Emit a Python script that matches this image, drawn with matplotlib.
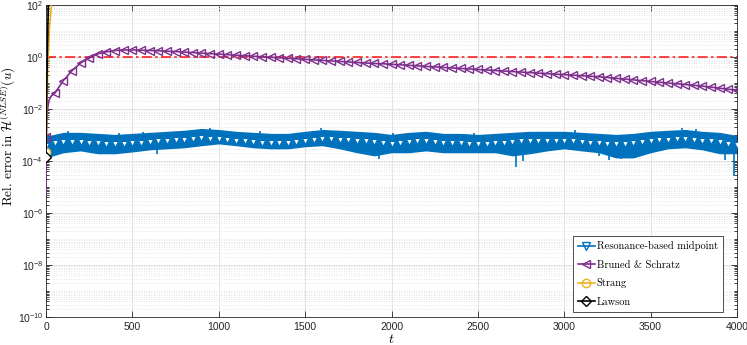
import matplotlib
matplotlib.use("Agg")
import matplotlib.pyplot as plt
import numpy as np
from matplotlib.ticker import FixedLocator, LogLocator, NullFormatter

plt.rcParams["font.family"] = ["Liberation Sans", "DejaVu Sans"]
plt.rcParams["xtick.direction"] = "in"
plt.rcParams["ytick.direction"] = "in"

# Resonance-based midpoint: noisy band, read as upper / lower envelope (log10) every 100
rbm_t = np.arange(0, 4001, 100)
rbm_upper_exp = [
    -3.08, -2.93, -2.93, -2.97, -3.01, -2.97, -2.93, -2.89, -2.85, -2.78,
    -2.82, -2.89, -2.93, -2.97, -2.97, -2.89, -2.82, -2.85, -2.89, -2.93,
    -3.01, -2.93, -2.89, -2.97, -2.97, -3.01, -2.97, -2.93, -2.89, -2.89,
    -2.89, -2.93, -2.97, -3.01, -2.97, -2.89, -2.85, -2.82, -2.89, -2.93,
    -3.05,
]
rbm_lower_exp = [
    -3.85, -3.65, -3.58, -3.69, -3.69, -3.62, -3.54, -3.50, -3.46, -3.38,
    -3.31, -3.38, -3.46, -3.50, -3.50, -3.42, -3.38, -3.50, -3.65, -3.77,
    -3.65, -3.65, -3.58, -3.65, -3.65, -3.65, -3.65, -3.77, -3.69, -3.58,
    -3.50, -3.58, -3.65, -3.85, -3.85, -3.65, -3.50, -3.46, -3.54, -3.69,
    -3.69,
]
# spikes sticking out of the band
spike_dn_t = [10, 640, 1930, 2720, 2760, 3200, 3260, 3330, 3930, 3985]
spike_dn_exp = [-3.95, -3.72, -3.92, -4.23, -4.0, -3.8, -3.96, -3.92, -3.96, -4.58]
spike_up_t = [130, 420, 560, 950, 1240, 1590, 2010, 2480, 3060, 3680, 3760]
spike_up_exp = [-2.86, -2.92, -2.9, -2.72, -2.86, -2.74, -2.93, -2.92, -2.82, -2.75, -2.78]
# marker line (every 50)
rbm_mark_t = np.arange(0, 4001, 50)
rbm_mark_exp = [
    -3.42, -3.30, -3.27, -3.27, -3.27, -3.29, -3.31, -3.33, -3.35, -3.33,
    -3.31, -3.29, -3.27, -3.25, -3.23, -3.21, -3.19, -3.16, -3.12, -3.14,
    -3.16, -3.19, -3.23, -3.25, -3.27, -3.29, -3.31, -3.31, -3.31, -3.27,
    -3.23, -3.19, -3.16, -3.17, -3.19, -3.21, -3.23, -3.25, -3.27, -3.31,
    -3.35, -3.31, -3.27, -3.25, -3.23, -3.27, -3.31, -3.31, -3.31, -3.33,
    -3.35, -3.33, -3.31, -3.29, -3.27, -3.25, -3.23, -3.23, -3.23, -3.23,
    -3.23, -3.25, -3.27, -3.29, -3.31, -3.33, -3.35, -3.33, -3.31, -3.27,
    -3.23, -3.21, -3.19, -3.17, -3.16, -3.19, -3.23, -3.25, -3.27, -3.33,
    -3.39,
]

# Bruned & Schratz
bs_t = [0, 1, 3, 8, 17, 30] + list(range(50, 4001, 50))
bs_exp = [-5.3, -3.07, -2.5, -2.05, -1.67, -1.5,
    -1.40, -0.91, -0.53, -0.23, -0.04, 0.12, 0.20, 0.25, 0.27, 0.27,
    0.26, 0.25, 0.24, 0.22, 0.21, 0.19, 0.17, 0.15, 0.13, 0.11,
    0.09, 0.07, 0.05, 0.03, 0.01, -0.01, -0.03, -0.05, -0.07, -0.09,
    -0.11, -0.13, -0.15, -0.17, -0.19, -0.21, -0.23, -0.25, -0.26, -0.28,
    -0.30, -0.32, -0.34, -0.36, -0.38, -0.40, -0.42, -0.44, -0.46, -0.48,
    -0.50, -0.52, -0.54, -0.56, -0.58, -0.60, -0.62, -0.64, -0.66, -0.68,
    -0.70, -0.72, -0.74, -0.76, -0.79, -0.82, -0.85, -0.88, -0.91, -0.94,
    -0.97, -1.00, -1.03, -1.06, -1.09, -1.12, -1.16, -1.20, -1.24, -1.28,
]
bs_marks = [1] + list(range(6, len(bs_t)))

# Strang and Lawson blow up right at the start
strang_t = [0, 5, 10, 20, 30, 40]
strang_exp = [-3.67, -2.2, -0.3, 1.1, 1.9, 2.6]
lawson_t = [0, 4, 8, 12, 16]
lawson_exp = [-3.86, -1.5, 0.3, 1.6, 2.6]

ref_level = 1.0

blue = "#0072BD"
purple = "#7E2F8E"
yellow = "#EDB120"

fig = plt.figure(figsize=(7.47, 3.45), dpi=100)
ax = fig.add_axes([0.0616, 0.0812, 0.925, 0.9043])

ax.fill_between(rbm_t, 10.0 ** np.array(rbm_upper_exp), 10.0 ** np.array(rbm_lower_exp),
                color=blue, lw=1.2, edgecolor=blue, zorder=2)
ax.vlines(spike_dn_t, 10.0 ** np.interp(spike_dn_t, rbm_t, rbm_lower_exp),
          10.0 ** np.array(spike_dn_exp), color=blue, lw=1.2, zorder=2)
ax.vlines(spike_up_t, 10.0 ** np.interp(spike_up_t, rbm_t, rbm_upper_exp),
          10.0 ** np.array(spike_up_exp), color=blue, lw=1.2, zorder=2)
ax.plot(rbm_mark_t, 10.0 ** np.array(rbm_mark_exp), ls="none", marker="v", ms=5,
        mfc="white", mec=blue, mew=0.8, zorder=3)

ax.plot(bs_t, 10.0 ** np.array(bs_exp), color=purple, lw=1.2, marker="<", ms=6,
        mfc="none", mec=purple, mew=1.0, markevery=bs_marks, zorder=4)
ax.plot(strang_t, 10.0 ** np.array(strang_exp), color=yellow, lw=1.2, marker="o", ms=6,
        mfc="white", mec=yellow, markevery=[0], zorder=5)
ax.plot(lawson_t, 10.0 ** np.array(lawson_exp), color="black", lw=1.2, marker="D", ms=5,
        mfc="white", mec="black", mew=1.0, markevery=[0], zorder=6)
ax.axhline(ref_level, color="#FF2020", ls=(0, (6, 2, 1.5, 2)), lw=1.2, zorder=3)

# legend handles
h1, = ax.plot([], [], color=blue, lw=1.2, marker="v", ms=6, mfc="none", mec=blue)
h2, = ax.plot([], [], color=purple, lw=1.2, marker="<", ms=6, mfc="none", mec=purple)
h3, = ax.plot([], [], color=yellow, lw=1.2, marker="o", ms=6, mfc="none", mec=yellow)
h4, = ax.plot([], [], color="black", lw=1.2, marker="D", ms=5, mfc="none", mec="black")
leg = ax.legend([h1, h2, h3, h4],
                ["Resonance-based midpoint", "Bruned & Schratz", "Strang", "Lawson"],
                loc="lower right", bbox_to_anchor=(0.98, 0.016), borderaxespad=0,
                prop={"family": "cmr10", "size": 7.5}, fancybox=False,
                edgecolor="#333333", framealpha=1.0, handlelength=1.6,
                handletextpad=0.2, borderpad=0.5, labelspacing=0.85)
leg.get_frame().set_linewidth(0.6)

ax.set_yscale("log")
ax.set_xlim(0, 4000)
ax.set_ylim(1e-10, 1e2)
ax.set_xticks(np.arange(0, 4001, 500))
ax.yaxis.set_major_locator(FixedLocator([10.0 ** k for k in range(-10, 3, 2)]))
ax.yaxis.set_minor_locator(LogLocator(base=10, subs=np.arange(1, 10), numticks=50))
ax.yaxis.set_minor_formatter(NullFormatter())

ax.grid(True, which="major", color="#e3e3e3", lw=0.7)
ax.grid(True, which="minor", axis="y", color="#dcdcdc", lw=0.6, ls=(0, (1, 2)))
ax.set_axisbelow(True)

ax.tick_params(which="both", top=True, right=True, colors="#262626", labelsize=7.5, width=0.6)
ax.tick_params(axis="y", which="major", pad=2)
ax.tick_params(which="major", length=4)
ax.tick_params(which="minor", length=2)
for s in ax.spines.values():
    s.set_color("#262626")
    s.set_linewidth(0.6)

ax.set_xlabel(r"$t$", fontsize=10, math_fontfamily="cm", labelpad=0)
ax.set_ylabel(r"Rel. error in $\mathcal{H}^{(NLSE)}(u)$", fontsize=9.5,
              family="cmr10", math_fontfamily="cm")
ax.yaxis.set_label_coords(-0.040, 0.58)

fig.savefig("out.png", dpi=100)
